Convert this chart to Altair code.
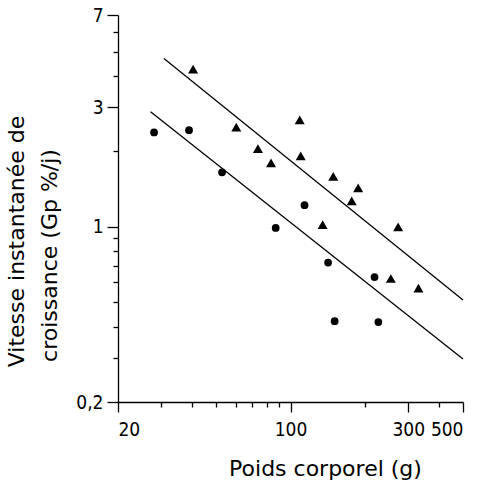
import altair as alt
import pandas as pd

# Ronds (série 1)
circle_x = [28.0, 38.8, 52.8, 87.1, 114, 142, 151, 219, 227]
circle_y = [2.38, 2.43, 1.65, 0.99, 1.22, 0.72, 0.42, 0.63, 0.417]
# Triangles (série 2)
tri_x = [40.3, 60.3, 73.8, 83.4, 109, 110, 135, 149, 177, 188, 273, 255, 330]
tri_y = [4.26, 2.5, 2.05, 1.80, 2.67, 1.92, 1.02, 1.59, 1.27, 1.43, 1.0, 0.622, 0.569]
# Droites de régression
line_group = ["haut", "haut", "bas", "bas"]
line_x = [30.7, 500, 27.1, 500]
line_y = [4.69, 0.51, 2.88, 0.297]

x_major = [20, 100, 300, 500]
x_minor = [30, 40, 50, 60, 70, 80, 90, 200, 400]
y_major = [0.2, 1, 3, 7]
y_minor = [0.3, 0.4, 0.5, 0.6, 0.7, 0.8, 0.9, 2, 4, 5, 6]

circles = pd.DataFrame({"x": circle_x, "y": circle_y})
tris = pd.DataFrame({"x": tri_x, "y": tri_y})
lines = pd.DataFrame({"g": line_group, "x": line_x, "y": line_y})

xs = alt.Scale(type="log", domain=[20, 500], nice=False)
ys = alt.Scale(type="log", domain=[0.2, 7], nice=False)

LABEL_FONT = "'DejaVu Sans Condensed', 'Liberation Sans Narrow', 'DejaVu Sans'"

line_layer = alt.Chart(lines).mark_line(color="black", strokeWidth=1.3, clip=False).encode(
    x=alt.X("x:Q", scale=xs, axis=None),
    y=alt.Y("y:Q", scale=ys, axis=None),
    detail="g:N",
)

circle_layer = alt.Chart(circles).mark_point(
    shape="circle", filled=True, size=60, color="black", opacity=1
).encode(
    x=alt.X("x:Q", scale=xs, axis=alt.Axis(
        values=x_major, tickSize=10, labelPadding=8, format="d", orient="bottom",
        title="Poids corporel (g)", titleX=207, titleY=73, titleAlign="center",
        titleBaseline="alphabetic", titleAnchor="start")),
    y=alt.Y("y:Q", scale=ys, axis=alt.Axis(
        values=y_major, tickSize=11, labelPadding=4, orient="left",
        labelExpr="replace(format(datum.value, '~g'), '.', ',')",
        title="Vitesse instantanée de", titleAngle=270, titleX=-95, titleY=226,
        titleAlign="center", titleBaseline="alphabetic")),
)

tri_layer = alt.Chart(tris).mark_point(
    shape="triangle-up", filled=True, size=100, color="black", opacity=1
).encode(
    x=alt.X("x:Q", scale=xs, axis=alt.Axis(
        values=x_minor, tickSize=5, labels=False, domain=False, orient="bottom", title=None)),
    y=alt.Y("y:Q", scale=ys, axis=alt.Axis(
        values=y_minor, tickSize=5, labels=False, domain=False, orient="left",
        title="croissance (Gp %/j)", titleAngle=270, titleX=-62, titleY=240,
        titleAlign="center", titleBaseline="alphabetic")),
)

chart = alt.layer(line_layer, circle_layer, tri_layer).resolve_axis(
    x="independent", y="independent"
).properties(
    width=345, height=387,
    padding={"left": 118, "top": 15, "right": 22, "bottom": 81},
    autosize="none",
).configure_view(stroke=None).configure_axis(
    grid=False,
    domainColor="black", domainWidth=1.3,
    tickColor="black", tickWidth=1.3,
    labelFont=LABEL_FONT, labelFontSize=19, labelColor="black",
    titleFont="DejaVu Sans", titleFontSize=22, titleFontWeight="normal", titleColor="black",
)

chart.save("out.html", embed_options={"renderer": "svg", "actions": False})
